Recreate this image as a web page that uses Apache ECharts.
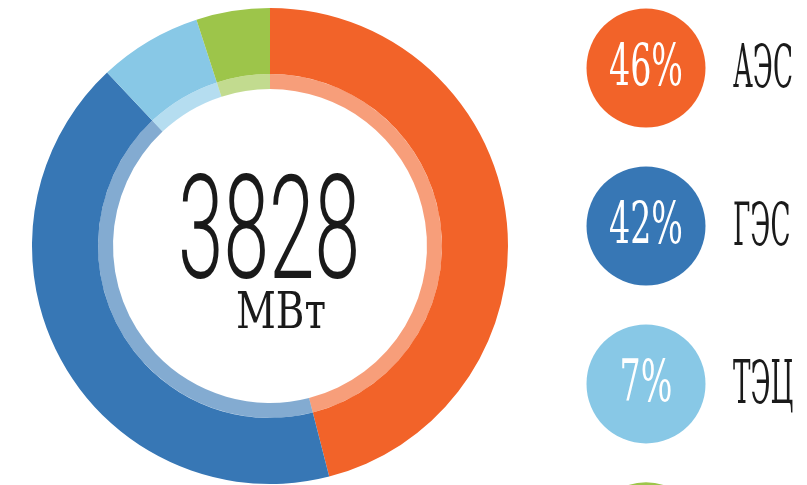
<!DOCTYPE html>
<html><head><meta charset="utf-8">
<script src="https://cdn.jsdelivr.net/npm/echarts@6/dist/echarts.min.js"></script>
<style>html,body{margin:0;padding:0;background:#fff}#c{width:807px;height:485px}</style>
</head><body><div id="c"></div>
<script>
const categories = ['АЭС', 'ГЭС', 'ТЭЦ', 'ВЭС'];
const shares = [46, 42, 7, 5];
const percentLabels = ['46%', '42%', '7%', '5%'];
const colors = ['#F26329', '#3777B5', '#88C8E6', '#9DC54A'];
const totalValue = '3828';
const totalUnit = 'МВт';

const chart = echarts.init(document.getElementById('c'), null, {renderer: 'canvas'});
const pieData = categories.map((n, i) => ({name: n, value: shares[i], itemStyle: {color: colors[i]}}));
const scatterData = categories.map((n, i) => ({value: [0, i], itemStyle: {color: colors[i]}}));

chart.setOption({
  animation: false,
  grid: {left: 646, top: 0, right: 61, bottom: 0},
  xAxis: {type: 'value', min: 0, max: 1, show: false},
  yAxis: {type: 'value', inverse: true, min: -0.43, max: 2.64, show: false},
  series: [
    {type: 'pie', center: [270, 246], radius: [172, 238], startAngle: 90, data: pieData,
     itemStyle: {borderWidth: 0}, label: {show: false}, labelLine: {show: false}, silent: true, emphasis: {disabled: true}},
    {type: 'pie', center: [270, 246], radius: [157, 172], startAngle: 90, data: pieData,
     itemStyle: {borderWidth: 0, opacity: 0.62}, label: {show: false}, labelLine: {show: false}, silent: true, emphasis: {disabled: true}},
    {type: 'scatter', data: scatterData, symbol: 'circle', symbolSize: 119, silent: true, clip: false, itemStyle: {opacity: 1}}
  ]
});

const cvs = document.createElement('canvas').getContext('2d');
function widthOf(text, font) { cvs.font = font; return cvs.measureText(text).width; }

const fSerifLab = 'normal 59px "DejaVu Serif"';
const fPct = 'normal 58px "DejaVu Serif"';
const fBig = '300 144px "Roboto"';
const fUnit = 'normal 51px "DejaVu Serif"';

const sLab = 60 / widthOf(categories[0], fSerifLab);
const sPct = 74 / widthOf(percentLabels[0], fPct);
const sBig = 182 / widthOf(totalValue, fBig);
const sUnit = 90 / widthOf(totalUnit, fUnit);

function txt(text, x, y, font, scaleX, fill, align) {
  return {type: 'text', x: x, y: y, scaleX: scaleX, silent: true, z: 100, zlevel: 0,
    style: {text: text, font: font, fill: fill, textAlign: align, textVerticalAlign: 'middle', align: align, verticalAlign: 'middle'}};
}

const els = [];
categories.forEach((c, i) => {
  const p = chart.convertToPixel({seriesIndex: 2}, [0, i]);
  els.push(txt(percentLabels[i], p[0], p[1] + 2, fPct, sPct, '#ffffff', 'center'));
  els.push(txt(c, p[0] + 87, p[1] + 4, fSerifLab, sLab, '#1a1a1a', 'left'));
});
els.push(txt(totalValue, 269, 242, fBig, sBig, '#1a1a1a', 'center'));
els.push(txt(totalUnit, 281, 315, fUnit, sUnit, '#1a1a1a', 'center'));
chart.setOption({graphic: {elements: els}});
</script></body></html>
